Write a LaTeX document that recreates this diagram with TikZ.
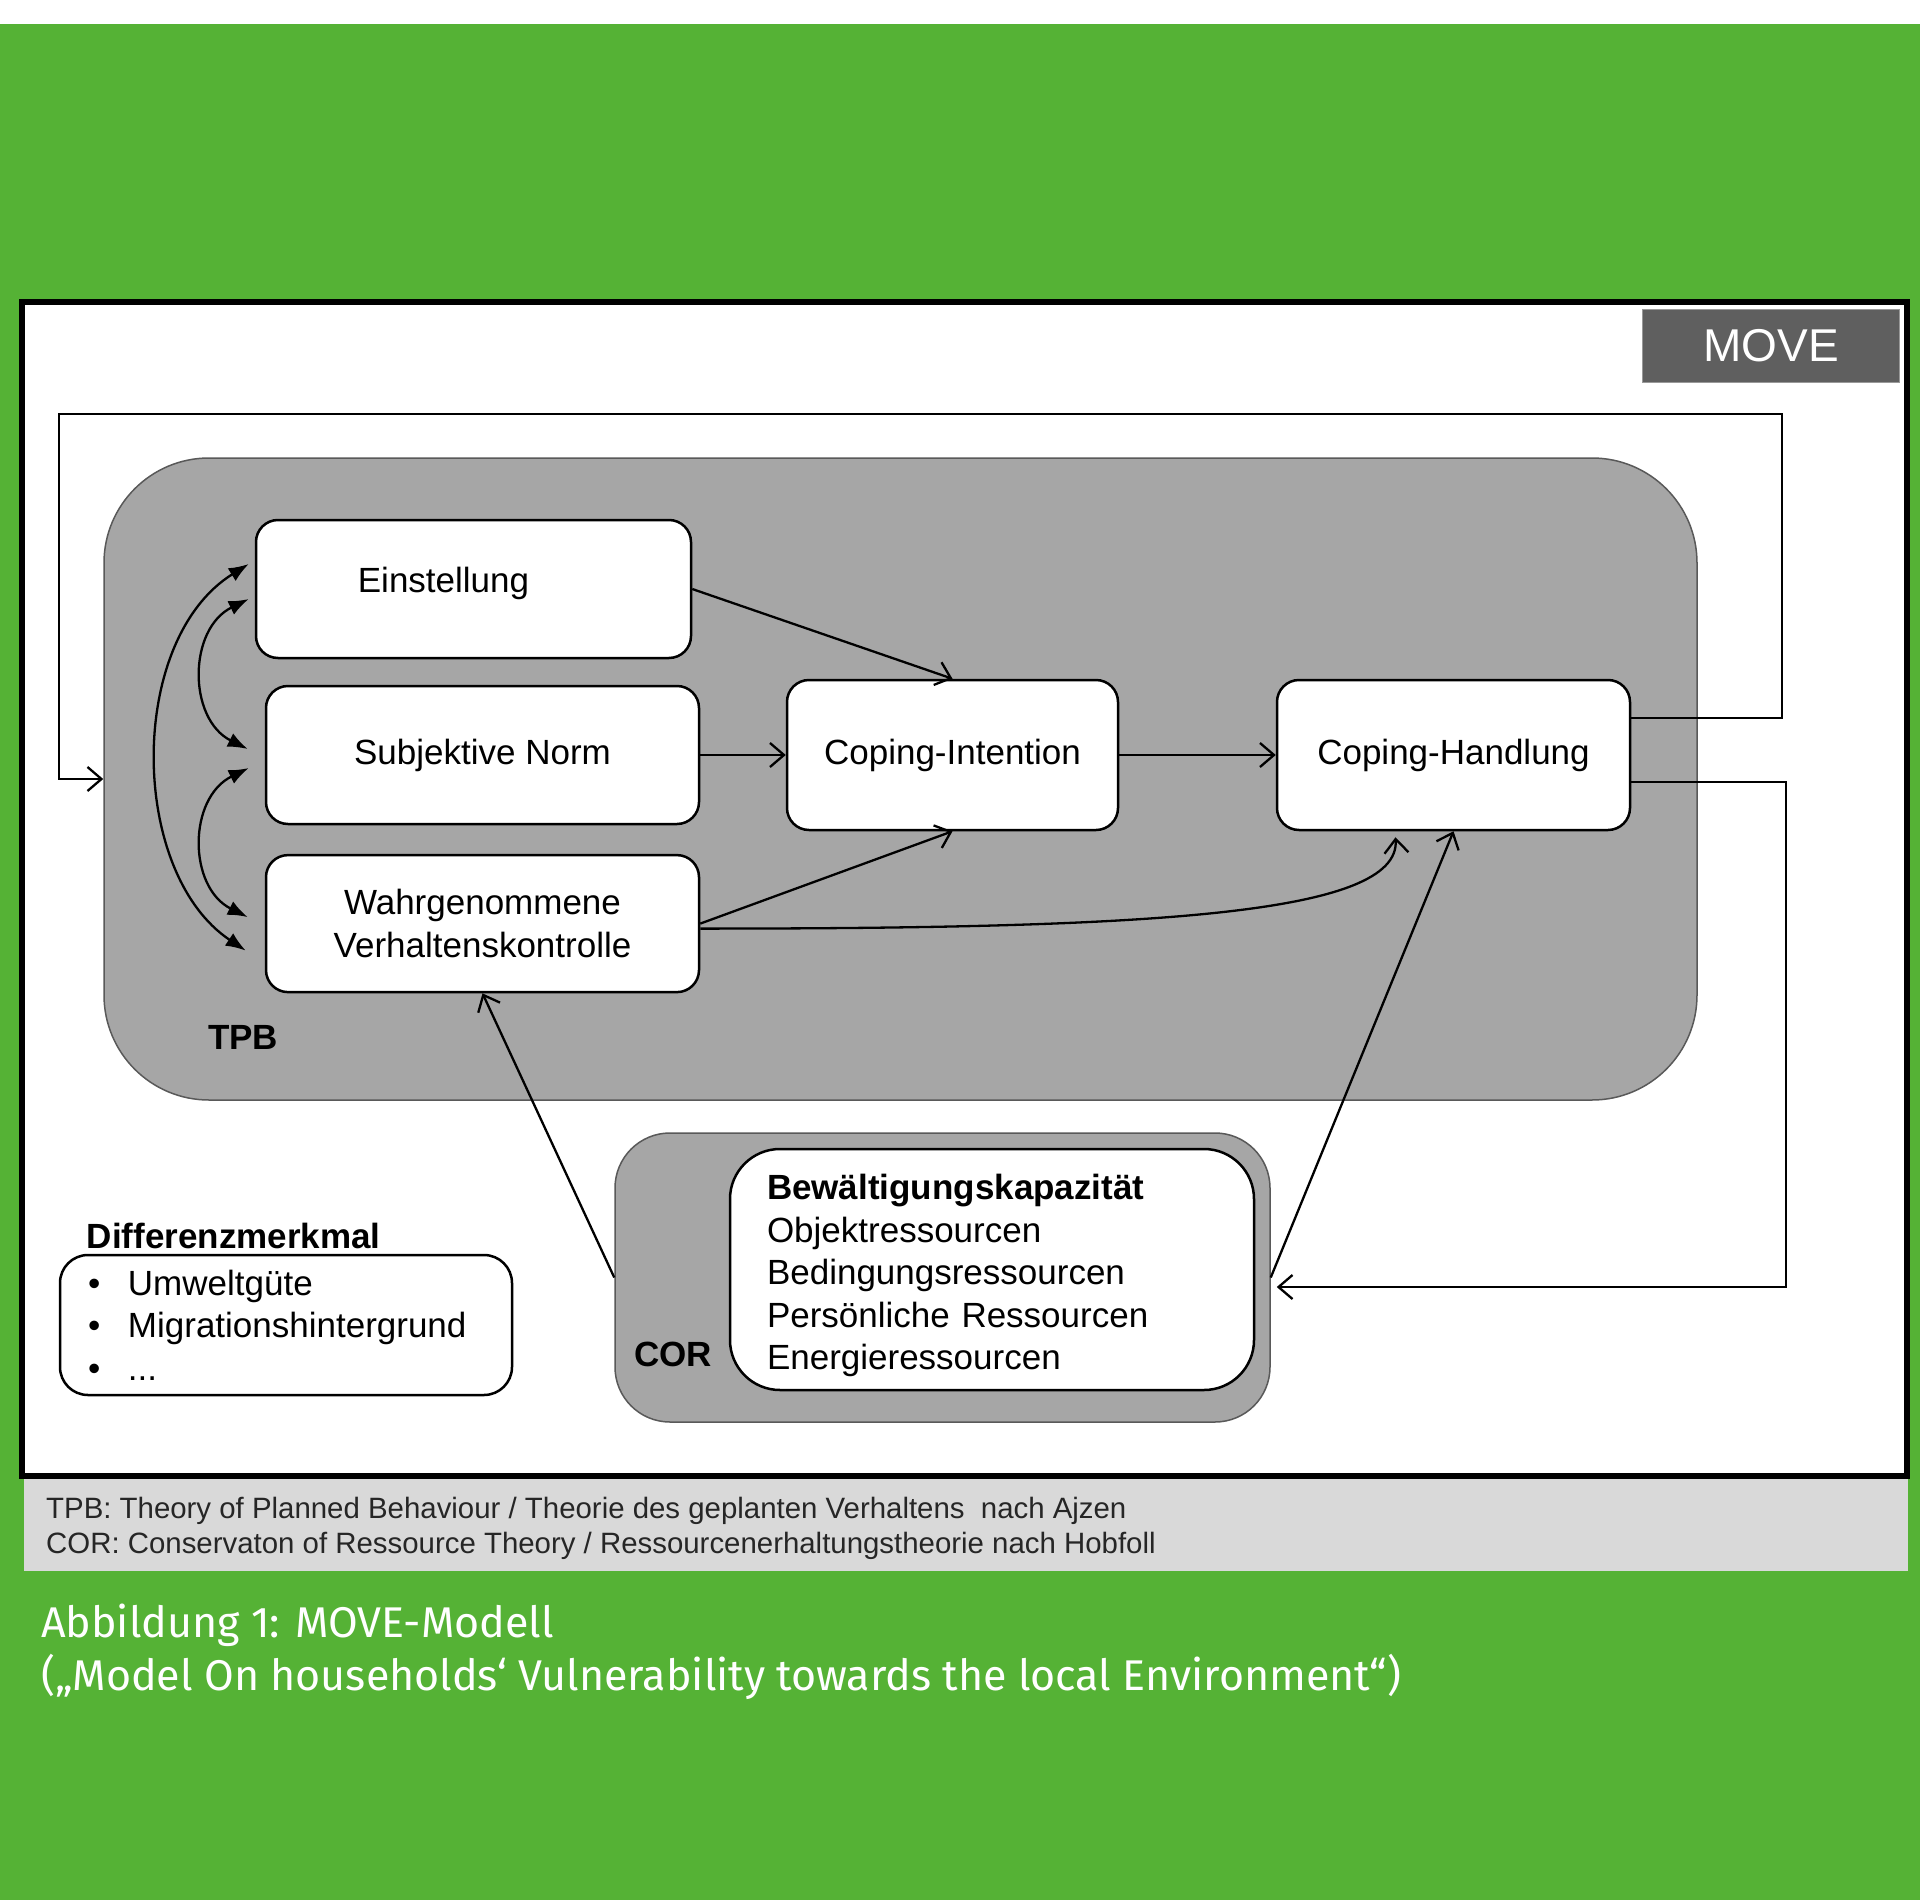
\documentclass[tikz,border=0pt]{standalone}
\usepackage{fontspec}
\setmainfont{Liberation Sans}
\newfontfamily\capfont{Fira Sans}
\usetikzlibrary{
    positioning,
    arrows.meta,
    fit
}

\definecolor{movegreen}{HTML}{55B235}
\definecolor{tpbgray}{HTML}{A6A6A6}
\definecolor{movegray}{HTML}{5F5F5F}
\definecolor{notegray}{HTML}{D9D9D9}

\newcommand{\boxfont}{\fontsize{35}{42.5}\selectfont}
\newcommand{\notefont}{\fontsize{29.4}{35}\selectfont}

\begin{document}
\begin{tikzpicture}[
    x=1pt, y=-1pt,
    % Estilos de Nodos
    box/.style={rectangle, draw=black, line width=2.5pt, fill=white, rounded corners=22pt, inner sep=0pt, font=\boxfont, align=center},
    model/.style={rectangle, draw=black!65, line width=1.5pt, fill=tpbgray, inner sep=0pt},
    tag/.style={font=\boxfont\bfseries, anchor=base west, inner sep=0pt},
    note/.style={font=\notefont, anchor=base west, inner sep=0pt, text=black!85},
    caption/.style={font=\capfont\fontsize{43}{52}\selectfont, anchor=base west, inner sep=0pt, text=white},
    % Estilos de Flechas
    arrow/.style={-{Straight Barb[length=14pt, width=24pt]}, line width=2.3pt, draw=black},
    biarrow/.style={{Latex[length=20pt, width=15pt]}-{Latex[length=20pt, width=15pt]}, line width=2.3pt, draw=black}
]
\useasboundingbox (0,0) rectangle (1920,1900);

% --- Fondo y Marco ---
\fill[white] (0,0) rectangle (1920,24);
\fill[movegreen] (0,24) rectangle (1920,1900);
\draw[line width=6pt, fill=white] (22,302) rectangle (1907,1476);
\fill[notegray] (24,1479) rectangle (1908,1571);

\node[fill=movegray, draw=black!40, line width=1pt, minimum width=257pt, minimum height=73pt,
      inner sep=0pt, text=white, font=\fontsize{46}{50}\selectfont] (move) at (1771,345.5) {MOVE};

% --- Bloques TPB y COR ---
\node[model, rounded corners=105pt, fit={(104,458) (1697,1100)}] (tpb) {};
\node[model, rounded corners=55pt, fit={(615,1133) (1270,1422)}] (cor) {};

% === TPB ===
\node[box, minimum width=435pt, minimum height=138pt,
      label={[font=\boxfont, xshift=-30pt, yshift=6pt]center:Einstellung}] (ein) at (473.5,589) {};
\node[box, minimum width=433pt, minimum height=138pt] (sub) [below=25.5pt of ein, xshift=9pt] {Subjektive Norm};
\node[box, minimum width=433pt, minimum height=137pt] (wvk) [below=28.6pt of sub] {Wahrgenommene\\Verhaltenskontrolle};
\node[box, minimum width=331pt, minimum height=150pt] (ci) [right=85.5pt of sub] {Coping-Intention};
\node[box, minimum width=353pt, minimum height=150pt] (ch) [right=156.5pt of ci] {Coping-Handlung};
\node[tag] (tpb_tag) at (208,1049) {TPB};

% === COR ===
\node[box, rounded corners=50pt, minimum width=524pt, minimum height=241pt, text width=450pt, align=left] (bk) at (992,1269.5)
    {\rule{0pt}{38pt}\textbf{Bewältigungskapazität}\\Objektressourcen\\Bedingungsressourcen\\Persönliche Ressourcen\\Energieressourcen};
\node[tag] (cor_tag) at (634,1366) {COR};

% === Differenzmerkmal ===
\node[box, rounded corners=28pt, minimum width=452pt, minimum height=140pt, text width=396pt, align=left] (dm) at (286,1325)
    {\makebox[40pt][l]{\textbullet}Umweltgüte\\\makebox[40pt][l]{\textbullet}Migrationshintergrund\\\makebox[40pt][l]{\textbullet}...};
\node[tag] (dm_tag) [above=5pt of dm.north west, anchor=base west, xshift=28pt] {Differenzmerkmal};

% --- Flechas del Modelo ---
\draw[arrow] (ein.east) -- (ci.north);
\draw[arrow] (sub.east) -- (ci.west);
\draw[arrow] (wvk.east) -- (ci.south);
\draw[arrow] ([yshift=-5pt]wvk.east) .. controls +(450,0) and +(5,78) .. ([xshift=-58pt, yshift=-6pt]ch.south);
\draw[arrow] (ci.east) -- (ch.west);
\draw[arrow] (cor.east) -- (ch.south);
\draw[arrow] (cor.west) -- (wvk.south);

% --- Correlaciones (flechas dobles) ---
\draw[biarrow] ([xshift=-6pt, yshift=25pt]ein.west) .. controls +(-122,76) and +(-117,-78) .. ([xshift=-19pt, yshift=-27pt]wvk.west);
\draw[biarrow] ([xshift=-6pt, yshift=-10pt]ein.west) .. controls +(-61,30) and +(-60,-30) .. ([xshift=-17pt, yshift=6pt]sub.west);
\draw[biarrow] ([xshift=-16pt, yshift=-13pt]sub.west) .. controls +(-61,30) and +(-60,-30) .. ([xshift=-17pt, yshift=6.5pt]wvk.west);

% --- Retroalimentación ---
\coordinate (loop_tr) at (1782,414);
\coordinate (loop_tl) at (59,414);
\coordinate (loop_br) at (1786,1287);
\draw[arrow] ([yshift=37pt]ch.east) -| (loop_tr) -- (loop_tl) |- (tpb.west);
\draw[arrow] ([yshift=-27pt]ch.east) -| (loop_br) -- ([xshift=6pt, yshift=-9.5pt]cor.east);

% --- Notas y Leyenda ---
\node[note] (note_tpb) at (46,1518) {TPB: Theory of Planned Behaviour / Theorie des geplanten Verhaltens\ \ nach Ajzen};
\node[note] (note_cor) at (46,1553) {COR: Conservaton of Ressource Theory / Ressourcenerhaltungstheorie nach Hobfoll};
\node[caption] (cap_title) at (41,1637) {Abbildung 1: MOVE-Modell};
\node[caption] (cap_sub) at (41,1690) {(„Model On households‘ Vulnerability towards the local Environment“)};

\end{tikzpicture}
\end{document}
